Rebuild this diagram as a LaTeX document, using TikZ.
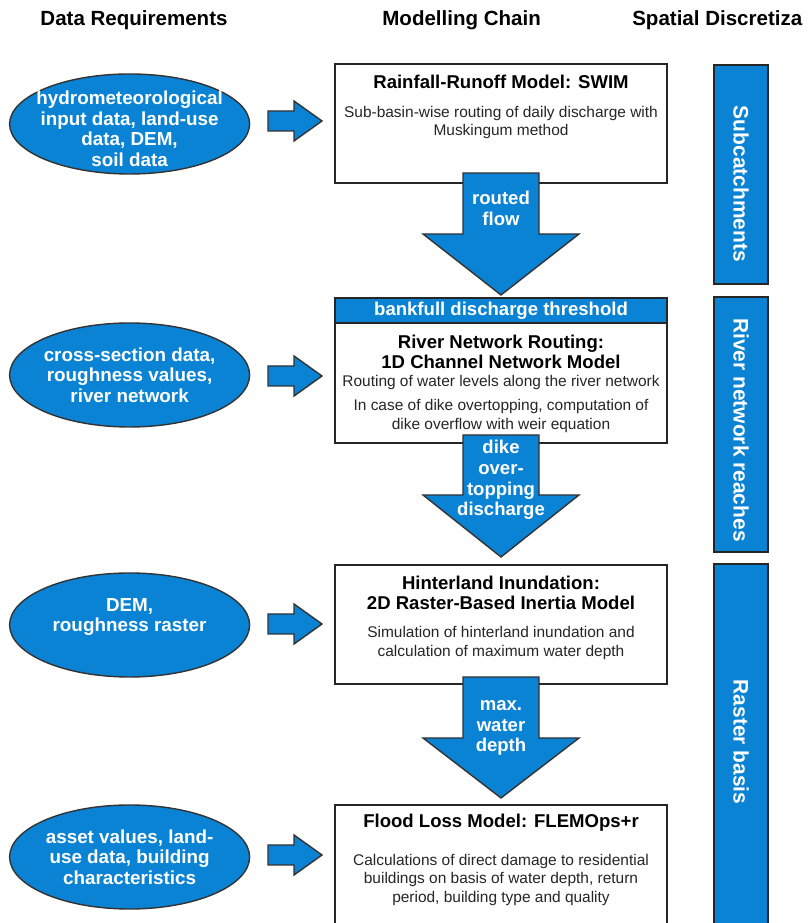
\documentclass[tikz,border=0pt]{standalone}
\usepackage{fontspec}
\setmainfont{Liberation Sans}
\usetikzlibrary{shapes.geometric, positioning}
\definecolor{chainblue}{RGB}{10,131,212}

\begin{document}
\begin{tikzpicture}[
    datanode/.style={ellipse, draw=black!80, line width=1pt, fill=chainblue, inner sep=0pt, minimum width=6cm, minimum height=2.6cm},
    datatext/.style={inner sep=0pt, align=center, text=white, font=\bfseries\fontsize{13.4}{14.6}\selectfont},
    blockarrow/.style={draw=black!80, line width=1pt, fill=chainblue},
    modelbox/.style={draw=black!85, line width=1.4pt, fill=white},
    bluebox/.style={draw=black!85, line width=1.4pt, fill=chainblue},
    headtext/.style={inner sep=0pt, font=\bfseries\fontsize{14.6}{16}\selectfont},
    titletext/.style={inner sep=0pt, align=center, font=\bfseries\fontsize{13.2}{14.2}\selectfont},
    bodytext/.style={inner sep=0pt, align=center, text=black!85, font=\fontsize{11}{13.3}\selectfont},
    flowtext/.style={inner sep=0pt, align=center, text=white, font=\bfseries\fontsize{13.2}{14.8}\selectfont},
    spacetext/.style={inner sep=0pt, text=white, rotate=-90, font=\bfseries\fontsize{14.9}{17}\selectfont}
]
\useasboundingbox (0,0) rectangle (20.275,23.075);

\node[headtext] (datahead) at (3.35,22.575) {Data Requirements};
\node[headtext] (chainhead) at (11.54,22.575) {Modelling Chain};
\node[headtext, anchor=west] (spacehead) at (15.8,22.575) {Spatial Discretiza};

% data requirements
\node[datanode, minimum height=2.5cm] (hydro) at (3.24,19.975) {};
\node[datatext] (hydrotext) at (3.24,19.85) {hydrometeorological\\input data, land-use\\data, DEM,\\soil data};
\node[datanode] (xsect) at (3.24,13.7) {};
\node[datatext] (xsecttext) at (xsect) {cross-section data,\\roughness values,\\river network};
\node[datanode] (dem) at (3.24,7.45) {};
\node[datatext] (demtext) at (3.24,7.65) {DEM,\\roughness raster};
\node[datanode] (asset) at (3.24,1.65) {};
\node[datatext] (assettext) at (asset) {asset values, land-\\use data, building\\characteristics};

\draw[blockarrow] (6.7,19.8) -- (7.35,19.8) -- (7.35,19.55) -- (8.05,20.05) -- (7.35,20.55) -- (7.35,20.3) -- (6.7,20.3) -- cycle;
\draw[blockarrow] (6.7,13.425) -- (7.35,13.425) -- (7.35,13.175) -- (8.05,13.675) -- (7.35,14.175) -- (7.35,13.925) -- (6.7,13.925) -- cycle;
\draw[blockarrow] (6.7,7.225) -- (7.35,7.225) -- (7.35,6.975) -- (8.05,7.475) -- (7.35,7.975) -- (7.35,7.725) -- (6.7,7.725) -- cycle;
\draw[blockarrow] (6.7,1.45) -- (7.35,1.45) -- (7.35,1.2) -- (8.05,1.7) -- (7.35,2.2) -- (7.35,1.95) -- (6.7,1.95) -- cycle;

% modelling chain
\draw[modelbox] (8.375,18.5) rectangle (16.675,21.475);
\draw[modelbox] (8.375,12.0) rectangle (16.675,15.625);
\draw[bluebox] (8.375,15.0) rectangle (16.675,15.625) node[midway, flowtext] (bankfull) {bankfull discharge threshold};
\draw[modelbox] (8.375,5.975) rectangle (16.675,8.95);
\draw[modelbox] (8.375,0) |- (16.675,2.95) -- (16.675,0);

\draw[blockarrow] (11.575,18.75) -- (13.475,18.75) -- (13.475,17.225) -- (14.475,17.225) -- (12.525,15.7) -- (10.575,17.225) -- (11.575,17.225) -- cycle;
\draw[blockarrow] (11.575,12.2) -- (13.475,12.2) -- (13.475,10.7) -- (14.475,10.7) -- (12.525,9.15) -- (10.575,10.7) -- (11.575,10.7) -- cycle;
\draw[blockarrow] (11.575,6.15) -- (13.475,6.15) -- (13.475,4.625) -- (14.475,4.625) -- (12.525,3.125) -- (10.575,4.625) -- (11.575,4.625) -- cycle;

\node[titletext] (swim) at (12.525,21.025) {Rainfall-Runoff Model: SWIM};
\node[bodytext] (swimtext) at (12.525,20.0125) {Sub-basin-wise routing of daily discharge with\\Muskingum method};
\node[flowtext] (routed) at (12.525,17.8625) {routed\\flow};

\node[titletext] (river) at (12.525,14.275) {River Network Routing:\\1D Channel Network Model};
\node[bodytext] (rivertext) at (12.525,13.5) {Routing of water levels along the river network};
\node[bodytext] (diketext) at (12.525,12.675) {In case of dike overtopping, computation of\\dike overflow with weir equation};
\node[flowtext] (overtop) at (12.525,11.075) {dike\\over-\\topping\\discharge};

\node[titletext] (inund) at (12.525,8.2625) {Hinterland Inundation:\\2D Raster-Based Inertia Model};
\node[bodytext] (inundtext) at (12.525,7.0) {Simulation of hinterland inundation and\\calculation of maximum water depth};
\node[flowtext] (depth) at (12.525,4.875) {max.\\water\\depth};

\node[titletext] (flemo) at (12.525,2.5) {Flood Loss Model: FLEMOps+r};
\node[bodytext] (flemotext) at (12.525,1.075) {Calculations of direct damage to residential\\buildings on basis of water depth, return\\period, building type and quality};

% spatial discretization
\draw[bluebox] (17.85,15.975) rectangle (19.2,21.45);
\draw[bluebox] (17.85,9.275) rectangle (19.2,15.65);
\fill[chainblue] (17.85,0) rectangle (19.2,8.975);
\draw[draw=black!85, line width=1.4pt] (17.85,0) |- (19.2,8.975) -- (19.2,0);

\node[spacetext] (subcat) at (18.525,18.475) {Subcatchments};
\node[spacetext] (reaches) at (18.525,12.325) {River network reaches};
\node[spacetext] (raster) at (18.525,4.525) {Raster basis};

\end{tikzpicture}
\end{document}
